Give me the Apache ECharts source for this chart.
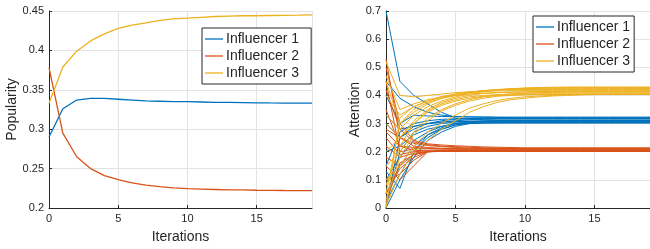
<!DOCTYPE html>
<html><head><meta charset="utf-8">
<script src="https://cdn.jsdelivr.net/npm/echarts@6/dist/echarts.min.js"></script>
<style>html,body{margin:0;padding:0;background:#fff}#c{width:650px;height:249px}</style>
</head><body><div id="c"></div>
<script>
const names = ['Influencer 1','Influencer 2','Influencer 3'];
const colors = ['#0072BD','#D95319','#EDB120'];
const xTicks = [0,5,10,15];
// Left: popularity per iteration (0..19)
const pop1 = [0.290,0.326,0.337,0.339,0.339,0.338,0.337,0.336,0.3355,0.335,0.335,0.3345,0.334,0.334,0.3337,0.3335,0.3333,0.3332,0.3331,0.333];
const pop2 = [0.378,0.295,0.265,0.250,0.241,0.236,0.232,0.229,0.227,0.2255,0.2245,0.224,0.2235,0.223,0.223,0.2225,0.2224,0.2222,0.2221,0.222];
const pop3 = [0.333,0.379,0.399,0.412,0.421,0.428,0.432,0.435,0.438,0.440,0.441,0.442,0.443,0.4435,0.444,0.444,0.4443,0.4445,0.4447,0.445];
// Right: attention, one line per agent
const att1 = [
[0.70,0.45,0.40,0.37,0.34,0.32,0.315,0.313,0.312,0.312,0.311,0.311,0.311,0.311,0.311,0.311,0.311,0.311,0.311,0.311],
[0.45,0.39,0.36,0.34,0.33,0.325,0.323,0.322,0.322,0.321,0.321,0.321,0.321,0.321,0.321,0.321,0.321,0.321,0.321,0.321],
[0.40,0.30,0.33,0.327,0.325,0.325,0.324,0.324,0.323,0.323,0.323,0.323,0.323,0.323,0.323,0.323,0.323,0.323,0.323,0.323],
[0.33,0.28,0.29,0.30,0.305,0.307,0.308,0.308,0.308,0.308,0.308,0.308,0.308,0.308,0.308,0.308,0.308,0.308,0.308,0.308],
[0.20,0.22,0.26,0.28,0.29,0.30,0.302,0.303,0.303,0.303,0.303,0.303,0.303,0.303,0.303,0.303,0.303,0.303,0.303,0.303],
[0.13,0.07,0.20,0.26,0.28,0.295,0.30,0.302,0.303,0.304,0.304,0.304,0.304,0.304,0.304,0.304,0.304,0.304,0.304,0.304],
[0.10,0.18,0.24,0.27,0.29,0.30,0.305,0.307,0.308,0.309,0.309,0.309,0.309,0.309,0.309,0.309,0.309,0.309,0.309,0.309],
[0.05,0.15,0.22,0.26,0.285,0.30,0.306,0.309,0.31,0.311,0.312,0.312,0.312,0.312,0.312,0.312,0.312,0.312,0.312,0.312],
[0.02,0.12,0.20,0.25,0.28,0.295,0.303,0.307,0.309,0.31,0.31,0.31,0.31,0.31,0.31,0.31,0.31,0.31,0.31,0.31],
[0.01,0.20,0.27,0.29,0.30,0.305,0.308,0.309,0.31,0.31,0.31,0.31,0.31,0.31,0.31,0.31,0.31,0.31,0.31,0.31],
[0.00,0.25,0.29,0.30,0.305,0.31,0.313,0.315,0.316,0.316,0.316,0.316,0.316,0.316,0.316,0.316,0.316,0.316,0.316,0.316],
[0.15,0.27,0.30,0.31,0.315,0.317,0.318,0.318,0.318,0.318,0.318,0.318,0.318,0.318,0.318,0.318,0.318,0.318,0.318,0.318],
[0.30,0.25,0.28,0.30,0.31,0.315,0.317,0.318,0.319,0.319,0.319,0.319,0.319,0.319,0.319,0.319,0.319,0.319,0.319,0.319],
[0.00,0.10,0.18,0.24,0.27,0.29,0.30,0.302,0.302,0.302,0.302,0.302,0.302,0.302,0.302,0.302,0.302,0.302,0.302,0.302]
];
const att2 = [
[0.53,0.25,0.22,0.215,0.212,0.211,0.21,0.21,0.21,0.21,0.21,0.21,0.21,0.21,0.21,0.21,0.21,0.21,0.21,0.21],
[0.50,0.30,0.24,0.228,0.224,0.221,0.219,0.217,0.216,0.215,0.214,0.214,0.214,0.214,0.214,0.214,0.214,0.214,0.214,0.214],
[0.45,0.20,0.21,0.21,0.209,0.209,0.209,0.209,0.209,0.209,0.209,0.209,0.209,0.209,0.209,0.209,0.209,0.209,0.209,0.209],
[0.42,0.28,0.235,0.225,0.22,0.218,0.216,0.214,0.213,0.212,0.211,0.211,0.211,0.211,0.211,0.211,0.211,0.211,0.211,0.211],
[0.35,0.22,0.205,0.203,0.202,0.202,0.202,0.202,0.202,0.202,0.202,0.202,0.202,0.202,0.202,0.202,0.202,0.202,0.202,0.202],
[0.28,0.25,0.23,0.222,0.218,0.215,0.213,0.212,0.211,0.211,0.211,0.211,0.211,0.211,0.211,0.211,0.211,0.211,0.211,0.211],
[0.25,0.19,0.20,0.203,0.204,0.204,0.204,0.204,0.204,0.204,0.204,0.204,0.204,0.204,0.204,0.204,0.204,0.204,0.204,0.204],
[0.22,0.18,0.195,0.20,0.201,0.201,0.201,0.201,0.201,0.201,0.201,0.201,0.201,0.201,0.201,0.201,0.201,0.201,0.201,0.201],
[0.18,0.15,0.19,0.20,0.202,0.203,0.203,0.203,0.203,0.203,0.203,0.203,0.203,0.203,0.203,0.203,0.203,0.203,0.203,0.203],
[0.15,0.10,0.15,0.20,0.203,0.204,0.205,0.205,0.205,0.205,0.205,0.205,0.205,0.205,0.205,0.205,0.205,0.205,0.205,0.205],
[0.10,0.12,0.17,0.20,0.205,0.206,0.206,0.206,0.206,0.206,0.206,0.206,0.206,0.206,0.206,0.206,0.206,0.206,0.206,0.206],
[0.05,0.14,0.18,0.20,0.202,0.203,0.203,0.203,0.203,0.203,0.203,0.203,0.203,0.203,0.203,0.203,0.203,0.203,0.203,0.203],
[0.02,0.16,0.19,0.20,0.201,0.201,0.201,0.201,0.201,0.201,0.201,0.201,0.201,0.201,0.201,0.201,0.201,0.201,0.201,0.201],
[0.27,0.22,0.215,0.212,0.211,0.21,0.21,0.21,0.21,0.21,0.21,0.21,0.21,0.21,0.21,0.21,0.21,0.21,0.21,0.21]
];
const att3 = [
[0.52,0.40,0.395,0.40,0.405,0.41,0.413,0.415,0.416,0.417,0.417,0.417,0.417,0.417,0.417,0.417,0.417,0.417,0.417,0.417],
[0.47,0.35,0.37,0.385,0.395,0.40,0.405,0.408,0.41,0.411,0.412,0.412,0.412,0.412,0.412,0.412,0.412,0.412,0.412,0.412],
[0.45,0.30,0.34,0.37,0.39,0.40,0.41,0.416,0.42,0.423,0.425,0.426,0.427,0.427,0.427,0.427,0.427,0.427,0.427,0.427],
[0.40,0.33,0.36,0.38,0.395,0.405,0.412,0.417,0.42,0.422,0.423,0.424,0.424,0.424,0.424,0.424,0.424,0.424,0.424,0.424],
[0.33,0.28,0.33,0.36,0.38,0.395,0.405,0.413,0.419,0.423,0.426,0.428,0.429,0.43,0.43,0.43,0.43,0.43,0.43,0.43],
[0.30,0.25,0.31,0.35,0.375,0.39,0.40,0.407,0.41,0.412,0.413,0.414,0.414,0.414,0.414,0.414,0.414,0.414,0.414,0.414],
[0.20,0.25,0.30,0.34,0.365,0.38,0.39,0.397,0.40,0.402,0.403,0.404,0.404,0.404,0.404,0.404,0.404,0.404,0.404,0.404],
[0.15,0.20,0.27,0.32,0.35,0.37,0.385,0.395,0.40,0.405,0.408,0.41,0.411,0.412,0.412,0.412,0.412,0.412,0.412,0.412],
[0.10,0.15,0.22,0.27,0.30,0.33,0.355,0.37,0.382,0.39,0.395,0.398,0.40,0.402,0.403,0.404,0.404,0.404,0.404,0.404],
[0.08,0.22,0.30,0.345,0.37,0.385,0.395,0.40,0.403,0.405,0.406,0.406,0.406,0.406,0.406,0.406,0.406,0.406,0.406,0.406],
[0.05,0.30,0.35,0.375,0.39,0.40,0.41,0.415,0.418,0.42,0.421,0.421,0.421,0.421,0.421,0.421,0.421,0.421,0.421,0.421],
[0.03,0.18,0.26,0.31,0.345,0.365,0.38,0.39,0.397,0.40,0.402,0.403,0.404,0.404,0.404,0.404,0.404,0.404,0.404,0.404],
[0.01,0.12,0.20,0.24,0.28,0.31,0.34,0.36,0.375,0.385,0.39,0.395,0.398,0.40,0.402,0.403,0.404,0.405,0.405,0.405],
[0.00,0.32,0.36,0.38,0.395,0.405,0.412,0.417,0.421,0.424,0.426,0.427,0.427,0.427,0.427,0.427,0.427,0.427,0.427,0.427]
];

const txt = '#262626';
const font = 'Liberation Sans, Arial, sans-serif';
const toPts = a => a.map((v,i)=>[i,v]);

function xAx(idx){
  return {gridIndex:idx,type:'value',min:0,max:19,interval:5,
    name:'Iterations',nameLocation:'middle',nameGap:22,
    nameTextStyle:{color:txt,fontSize:14,fontFamily:font},
    axisLine:{show:true,lineStyle:{color:txt,width:1}},
    axisTick:{show:true,inside:true,length:3,lineStyle:{color:txt}},
    axisLabel:{color:txt,fontSize:11,fontFamily:font,margin:5,showMaxLabel:false},
    splitLine:{show:true,lineStyle:{color:'#e3e3e3',width:1}}};
}
function yAx(idx,name,min,max,interval,gap){
  return {gridIndex:idx,type:'value',min:min,max:max,interval:interval,
    name:name,nameLocation:'middle',nameGap:gap,nameRotate:90,
    nameTextStyle:{color:txt,fontSize:14,fontFamily:font},
    axisLine:{show:true,lineStyle:{color:txt,width:1}},
    axisTick:{show:true,inside:true,length:3,lineStyle:{color:txt}},
    axisLabel:{color:txt,fontSize:11,fontFamily:font,margin:5},
    splitLine:{show:true,lineStyle:{color:'#e3e3e3',width:1}}};
}

const series = [];
[pop1,pop2,pop3].forEach((arr,k)=>{
  series.push({type:'line',name:names[k],xAxisIndex:0,yAxisIndex:0,data:toPts(arr),
    showSymbol:false,symbol:'none',lineStyle:{color:colors[k],width:1.3},itemStyle:{color:colors[k]},z:3});
});
[att1,att2,att3].forEach((group,k)=>{
  group.forEach(arr=>{
    series.push({type:'line',name:names[k],xAxisIndex:1,yAxisIndex:1,data:toPts(arr),
      showSymbol:false,symbol:'none',lineStyle:{color:colors[k],width:1},itemStyle:{color:colors[k]},z:2+k});
  });
});

function leg(left,top,padR){
  return {data:names,orient:'vertical',left:left,top:top,
    icon:'rect',itemWidth:18,itemHeight:1.3,itemGap:3,
    padding:[4,padR,4,3],borderColor:txt,borderWidth:1,backgroundColor:'#fff',
    textStyle:{color:txt,fontSize:14,fontFamily:font,padding:[0,0,0,-2]},selectedMode:false};
}

const chart = echarts.init(document.getElementById('c'),null,{renderer:'canvas'});
chart.setOption({
  animation:false,
  backgroundColor:'#fff',
  grid:[{left:49,top:11,width:263,height:200},{left:386,top:11,width:264,height:200}],
  xAxis:[xAx(0),xAx(1)],
  yAxis:[yAx(0,'Popularity',0.2,0.45,0.05,30),yAx(1,'Attention',0,0.7,0.1,20)],
  legend:[leg(202,28,12),leg(533,16,4)],
  series:series
});
</script></body></html>
